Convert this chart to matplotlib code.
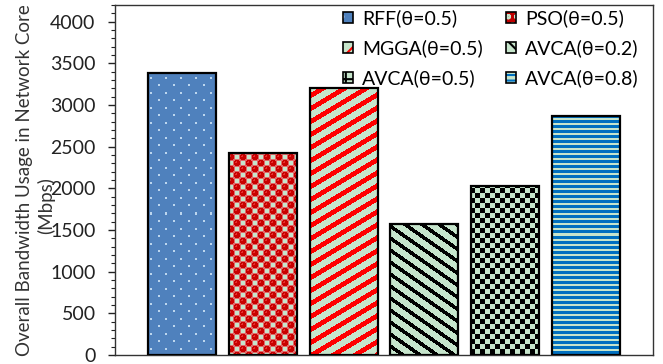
import matplotlib
matplotlib.use('Agg')
import matplotlib.pyplot as plt
from matplotlib.patches import Patch, Rectangle
from matplotlib.legend_handler import HandlerBase
from matplotlib.ticker import MultipleLocator
import numpy as np

plt.rcParams['font.family'] = ['Lato', 'DejaVu Sans']
plt.rcParams['hatch.linewidth'] = 1.5

## ====== data ====== ##
labels = ['RFF(θ=0.5)', 'PSO(θ=0.5)', 'MGGA(θ=0.5)',
          'AVCA(θ=0.2)', 'AVCA(θ=0.5)', 'AVCA(θ=0.8)']
bandwidth = [3390, 2420, 3210, 1570, 2030, 2870]

green = np.array([0.78, 0.90, 0.80])


def hexrgb(h):
    h = h.lstrip('#')
    return np.array([int(h[i:i + 2], 16) / 255 for i in (0, 2, 4)])


# texture per bar, X/Y are pixel coordinates (Y going up)
def tex_rff(X, Y):
    img = np.empty(X.shape + (3,))
    img[:] = hexrgb('#4f81bd')
    dots = ((X % 15 < 2) & (Y % 15 < 2)) | (((X + 7) % 15 < 2) & ((Y + 7) % 15 < 2))
    img[dots] = hexrgb('#bcd6ee')
    return img


def tex_pso(X, Y):
    img = np.empty(X.shape + (3,))
    img[:] = hexrgb('#e06a6a')
    u = X % 6 - 2.5
    v = Y % 6 - 2.5
    cell = ((X // 6) + (Y // 6)) % 2
    d = np.hypot(u, v)
    red = (cell == 0) & (d < 3.3)
    img[red] = hexrgb('#c80000')
    img[red & (d < 1.6) & (u < 0.5) & (v > -0.5)] = hexrgb('#e83030')
    sq = (cell == 1) & (np.abs(u) < 2.1) & (np.abs(v) < 2.1)
    img[sq] = green
    return img


def tex_mgga(X, Y):
    img = np.empty(X.shape + (3,))
    img[:] = green
    img[(Y - 0.6 * X) % 13 < 5.5] = hexrgb('#ff0000')
    return img


def tex_avca2(X, Y):
    img = np.empty(X.shape + (3,))
    img[:] = green
    img[(Y + 0.7 * X) % 12 < 4.5] = 0.0
    return img


def tex_avca5(X, Y):
    img = np.empty(X.shape + (3,))
    img[:] = green
    img[((X // 5) + (Y // 5)) % 2 == 0] = 0.0
    return img


def tex_avca8(X, Y):
    img = np.empty(X.shape + (3,))
    img[:] = green
    img[Y % 5 < 3] = hexrgb('#0070c0')
    return img


textures = [tex_rff, tex_pso, tex_mgga, tex_avca2, tex_avca5, tex_avca8]

# legend proxies (hatch approximations of the textures), edgecolor = hatch colour
proxies = [
    Patch(facecolor='#4f81bd', edgecolor='#dbe8f5', hatch='.'),
    Patch(facecolor='#c00000', edgecolor='#c6e5cb', hatch='oo'),
    Patch(facecolor='#c6e5cb', edgecolor='#ff0000', hatch='//'),
    Patch(facecolor='#c6e5cb', edgecolor='black', hatch='\\\\'),
    Patch(facecolor='#c6e5cb', edgecolor='black', hatch='++'),
    Patch(facecolor='#c6e5cb', edgecolor='#0070c0', hatch='---'),
]


class HatchBox(HandlerBase):
    # hatched square with a black border
    def create_artists(self, legend, orig, xd, yd, width, height, fontsize, trans):
        r1 = Rectangle((-xd, -yd), width, height, facecolor=orig.get_facecolor(),
                       edgecolor=orig.get_edgecolor(), hatch=orig.get_hatch(),
                       linewidth=0, transform=trans)
        r2 = Rectangle((-xd, -yd), width, height, fill=False, edgecolor='black',
                       linewidth=1.2, transform=trans)
        return [r1, r2]


## ====== plotting ====== ##
fig = plt.figure(figsize=(6.63, 3.64), dpi=100)
ax = fig.add_axes([115 / 663, 9 / 364, 538 / 663, 350 / 364])

x = np.arange(len(labels))
bars = ax.bar(x, bandwidth, width=0.84, facecolor='none', edgecolor='black',
              linewidth=1.6, zorder=3)

ax.set_xlim(-0.83, 5.83)
ax.set_ylim(0, 4200)
fig.canvas.draw()

for bar, tex in zip(bars, textures):
    x0, x1 = bar.get_x(), bar.get_x() + bar.get_width()
    y0, y1 = 0, bar.get_height()
    (px0, py0), (px1, py1) = ax.transData.transform([(x0, y0), (x1, y1)])
    w = int(round(px1 - px0))
    h = int(round(py1 - py0))
    X, Y = np.meshgrid(np.arange(w) + int(round(px0)),
                       int(round(py1)) - np.arange(h) - 1)
    ax.imshow(tex(X, Y), extent=(x0, x1, y0, y1), aspect='auto',
              interpolation='nearest', origin='upper', zorder=2)

ax.set_xlim(-0.83, 5.83)
ax.set_ylim(0, 4200)

ax.yaxis.set_major_locator(MultipleLocator(500))
ax.yaxis.set_minor_locator(MultipleLocator(100))
ax.set_xticks([])
ax.tick_params(axis='y', which='major', length=5, width=1, labelsize=14,
               colors='#222222', pad=9)
ax.tick_params(axis='y', which='minor', length=3, width=0.8, colors='#222222')
for s in ax.spines.values():
    s.set_color('#333333')
    s.set_linewidth(1)

ax.set_ylabel('Overall Bandwidth Usage in Network Core', fontsize=13.5,
              color='#333333')
ax.yaxis.set_label_coords(-0.153, 0.5)
ax.text(-0.129, 0.426, '(Mbps)', transform=ax.transAxes, rotation=90,
        ha='center', va='center', fontsize=13.5, color='#333333')

# row-major order like the original legend
order = [0, 2, 4, 1, 3, 5]
ax.legend([proxies[i] for i in order], [labels[i] for i in order],
          handler_map={Patch: HatchBox()},
          loc='upper left', bbox_to_anchor=(0.424, 0.987),
          ncol=2, frameon=False, fontsize=14, handlelength=0.52,
          handleheight=0.52, handletextpad=0.45, columnspacing=1.2,
          labelspacing=0.62, borderaxespad=0, borderpad=0)

fig.savefig('out.png', dpi=100)
